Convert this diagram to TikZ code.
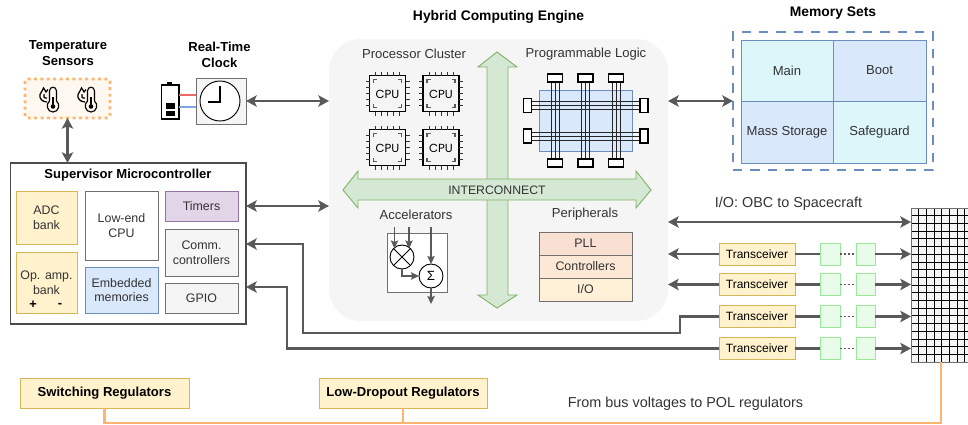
\documentclass[tikz,border=0pt]{standalone}
\usepackage{fontspec}
\setmainfont{Liberation Sans}
\newfontfamily\chipfont{Poppins}
\usetikzlibrary{arrows.meta,calc}
\definecolor{txt}{HTML}{333333}
\definecolor{ln}{HTML}{595959}
\definecolor{yf}{HTML}{FFF2CC}
\definecolor{ys}{HTML}{D6B656}
\definecolor{gf}{HTML}{F5F5F5}
\definecolor{gs}{HTML}{707070}
\definecolor{bf}{HTML}{DAE8FC}
\definecolor{bs}{HTML}{6C8EBF}
\definecolor{pf}{HTML}{E1D5E7}
\definecolor{ps}{HTML}{9673A6}
\definecolor{gnf}{HTML}{D5E8D4}
\definecolor{gns}{HTML}{82B366}
\definecolor{org}{HTML}{FFB570}
\definecolor{tealf}{HTML}{DDF6FA}
\definecolor{sqf}{HTML}{E9FBE9}
\definecolor{sqs}{HTML}{9AE89A}
\definecolor{pllf}{HTML}{F9E0D3}
\definecolor{ctlf}{HTML}{FCE8D5}
\definecolor{piof}{HTML}{FFF1D8}
\definecolor{redw}{HTML}{EA6B66}
\definecolor{bluw}{HTML}{7EA6E0}
\newcommand{\fsA}{\fontsize{9.3}{11}\selectfont}
\newcommand{\fsB}{\fontsize{9.8}{11.5}\selectfont}
\newcommand{\fsC}{\fontsize{10.8}{13}\selectfont}
\tikzset{
  x=0.75pt,y=-0.75pt,
  every node/.style={inner sep=0pt,outer sep=0pt,font=\fsA,text=txt,align=center},
  ttl/.style={font=\fontsize{9.8}{12}\selectfont\bfseries,text=black},
  ttlb/.style={font=\fontsize{10.4}{12}\selectfont\bfseries,text=black},
  big/.style={font=\fsB},
  wide/.style={font=\fsC},
  yel/.style={draw=ys,fill=yf,line width=0.65pt},
  gry/.style={draw=gs,fill=gf,line width=0.65pt},
  wht/.style={draw=gs,fill=white,line width=0.65pt},
  blu/.style={draw=bs,fill=bf,line width=0.65pt},
  pur/.style={draw=ps,fill=pf,line width=0.65pt},
  sq/.style={draw=sqs,fill=sqf,line width=0.7pt},
  cell/.style={draw=bs,line width=0.55pt,font=\fsB},
  bigarrow/.style={draw=gns,fill=gnf,line width=0.7pt},
  wire/.style={draw=ln,line width=1.6pt},
  tip/.tip={Stealth[length=8pt,width=8.5pt,inset=1.8pt]},
  both/.style={wire,{tip}-{tip}},
  one/.style={wire,-{tip}},
  small/.style={draw=ln,line width=1.1pt,-{Stealth[length=6pt,width=5.5pt,inset=1pt]}},
  rail/.style={draw=black!85,line width=0.6pt},
  capbox/.style={draw=black,fill=white,line width=1.1pt},
  cpu/.pic={
    \draw[black,line width=0.8pt,fill=gf] (-18,-18) rectangle (18,18);
    \foreach \p in {-12,-6,0,6,12}{
      \draw[black!80,line width=0.6pt] (\p,-18) -- (\p,-22) (\p,18) -- (\p,22) (-18,\p) -- (-22,\p) (18,\p) -- (22,\p);
    }
    \draw[ln,line width=1pt] (-14,-10.5) -- (-14,-14) -- (-10.5,-14)
      (14,-10.5) -- (14,-14) -- (10.5,-14)
      (-14,10.5) -- (-14,14) -- (-10.5,14)
      (14,10.5) -- (14,14) -- (10.5,14);
    \node[text=black,font=\chipfont\fontsize{8.8}{8.8}\selectfont] (-t) at (0,0.5) {CPU};
  },
  thermo/.pic={
    \draw[black,line width=0.85pt,fill=none]
      (-3.5,1) -- (-3.5,-9) .. controls (-3.5,-14) and (3.5,-14) .. (3.5,-9) -- (3.5,1)
      .. controls (7.5,4) and (6,12) .. (0,12) .. controls (-6,12) and (-7.5,4) .. (-3.5,1);
    \fill[black] (0,6.5) circle (2.3);
    \draw[black,line width=0.85pt] (0,6.5) -- (0,-3);
    \draw[black,line width=0.95pt]
      (-6,2) .. controls (-11,2) and (-14,-2) .. (-13,-5.5)
      .. controls (-12.5,-8) and (-10,-9) .. (-9.5,-12)
      .. controls (-8,-10) and (-7.5,-9) .. (-7,-8)
      .. controls (-6.5,-9) and (-6,-10) .. (-5,-10.5);
    \draw[black,line width=0.95pt] (-6,-2) .. controls (-9,-1.5) and (-10,-3.5) .. (-9,-6);
  },
}
\newcommand{\bx}[7]{\node[#6,minimum width={((#4)-(#2))*0.75pt},minimum height={((#5)-(#3))*0.75pt}] (#1) at ({((#2)+(#4))/2},{((#3)+(#5))/2}) {#7};}
\newcommand{\trx}[2]{%
  \bx{t#1}{719}{#2-11}{795}{#2+11}{yel,font=\fontsize{9}{11}\selectfont}{\textcolor{black}{Transceiver}}
  \bx{a#1}{820}{#2-11}{840}{#2+11}{sq}{}
  \bx{b#1}{856}{#2-11}{875}{#2+11}{sq}{}
  \draw[wire] (t#1.east) -- (a#1.west);
  \draw[draw=ln,line width=1.1pt,dash pattern=on 1.5pt off 1.5pt] (a#1.east) -- (b#1.west);
  \draw[one] (b#1.east) -- (grid.west |- b#1.east);
}
\begin{document}
\begin{tikzpicture}
\useasboundingbox (0,0) rectangle (968,425);

% titles
\node[ttl] (ttemp) at (68,53.5) {Temperature\\Sensors};
\node[ttl] (tclock) at (219.5,54.5) {Real-Time\\Clock};
\node[ttlb] (tengine) at (498.5,17) {Hybrid Computing Engine};
\node[ttlb] (tmem) at (833,13) {Memory Sets};

% temperature sensors
\bx{temp}{25}{79}{110}{118}{draw=org,fill=org!10,line width=2.2pt,dash pattern=on 2.2pt off 2.6pt,rounded corners=2pt}{}
\pic (thA) at (53,100) {thermo};
\pic (thB) at (91,100) {thermo};

% clock and battery
\bx{clock}{196}{78}{246}{124}{gry}{}
\node[draw=black,fill=white,line width=0.7pt,circle,minimum size=30pt] (face) at (220,101) {};
\coordinate (hnd) at (220,102);
\draw[black,line width=1.1pt] (220,86) -- (hnd) -- (208,102);
\bx{batt}{161.5}{85}{179}{119}{draw=black,fill=white,line width=1.4pt}{}
\fill[black] (167,81.5) rectangle (172,85);
\fill[black] (165.5,103) rectangle (175,109);
\fill[black] (165.5,111) rectangle (175,115.5);
\draw[draw=redw,line width=1.5pt] (batt.east |- 0,94.5) -- (clock.west |- 0,94.5);
\draw[draw=bluw,line width=1.5pt] (batt.east |- 0,107) -- (clock.west |- 0,107);

% supervisor
\bx{sup}{10.5}{163}{246}{324}{draw=black!70,fill=white,line width=1pt}{}
\node[ttl] (tsup) at (128,175) {Supervisor Microcontroller};
\bx{adc}{16}{191}{77}{244}{yel}{ADC\\bank}
\bx{opamp}{16}{252}{77}{313}{yel}{}
\node (topamp) at (46.5,282.5) {Op. amp.\\bank};
\node[font=\fontsize{9.6}{11}\selectfont\bfseries,text=black] (plus) at (33,305) {+};
\node[font=\fontsize{9.6}{11}\selectfont\bfseries,text=black] (minus) at (60,305) {-};
\bx{lcpu}{85}{191}{158}{260}{wht}{Low-end\\CPU}
\bx{emb}{85}{267}{158}{313}{blu}{Embedded\\memories}
\bx{timers}{165}{191}{238}{221}{pur}{Timers}
\bx{comm}{165}{229}{238}{276}{gry}{Comm.\\controllers}
\bx{gpio}{165}{283}{238}{313}{gry}{GPIO}

% engine
\node[draw=none,fill=gf,rounded corners=24pt,minimum width={(668-329)*0.75pt},minimum height={(321-39)*0.75pt}] (cluster) at ({(329+668)/2},{(39+321)/2}) {};
\draw[bigarrow] (497,52) -- (517,67) -- (508,67) -- (508,295) -- (517,295) -- (497,308) -- (478,295) -- (487,295) -- (487,67) -- (478,67) -- cycle;
\draw[bigarrow] (343,190) -- (358,171) -- (358,179) -- (636,179) -- (636,171) -- (651,190) -- (636,208) -- (636,200) -- (358,200) -- (358,208) -- cycle;
\node[font=\fontsize{9.2}{11}\selectfont] (inter) at (497,190.5) {INTERCONNECT};
\node[big] (tproc) at (414,54) {Processor Cluster};
\node[big] (tprog) at (586,54) {Programmable Logic};
\node[big] (tacc) at (416,214.5) {Accelerators};
\node[big] (tper) at (585,214.5) {Peripherals};

\pic (c1) at (387.5,93.5) {cpu};
\pic (c2) at (441,93.5) {cpu};
\pic (c3) at (387.5,147.5) {cpu};
\pic (c4) at (441,147.5) {cpu};

% programmable logic
\bx{fabric}{539.5}{90}{632}{151}{blu}{}
\foreach \y in {101,105,109,132,136,140}{
  \draw[rail] (528,\y) -- (644,\y);
}
\foreach \x in {551,555,559,581.5,585.5,589.5,612,616,620}{
  \draw[rail] (\x,78) -- (\x,163);
}
\foreach \n/\y in {l1/105.5,l2/136}{
  \node[capbox,minimum width=6.2pt,minimum height=10.8pt] (\n) at (527.5,\y) {};
}
\foreach \n/\y in {r1/105.5,r2/136}{
  \node[capbox,minimum width=6.2pt,minimum height=10.8pt] (\n) at (644,\y) {};
}
\foreach \n/\x in {u1/555,u2/585.5,u3/616}{
  \node[capbox,minimum width=11pt,minimum height=5.8pt] (\n) at (\x,78) {};
}
\foreach \n/\x in {d1/555,d2/585.5,d3/616}{
  \node[capbox,minimum width=11pt,minimum height=5.8pt] (\n) at (\x,163) {};
}

% accelerators
\bx{acc}{387}{233}{447}{292}{wht}{}
\node[draw=black,fill=white,circle,line width=0.7pt,minimum size=18pt] (mul) at (402,257) {};
\draw[black,line width=0.7pt] (mul.45) -- (mul.225) (mul.135) -- (mul.315);
\node[draw=black,fill=white,circle,line width=0.7pt,minimum size=18pt,font=\fontsize{10}{10}\selectfont,text=black] (sum) at (431,276) {Σ};
\coordinate (inA) at (394.5,227);
\coordinate (inB) at (409,227);
\coordinate (inC) at (431,227);
\coordinate (outS) at (431,304);
\draw[small] (inA) -- (inA |- mul.north west);
\draw[small] (inB) -- (inB |- mul.north east);
\draw[small] (inC) -- (sum.north);
\draw[small] (mul.south) |- (sum.west);
\draw[small] (sum.south) -- (outS);

% peripherals
\bx{pll}{539}{232}{632}{255}{draw=gs,fill=pllf,line width=0.65pt}{PLL}
\bx{ctl}{539}{255}{632}{278}{draw=gs,fill=ctlf,line width=0.65pt}{Controllers}
\bx{pio}{539}{278}{632}{301}{draw=gs,fill=piof,line width=0.65pt}{I/O}

% memory
\bx{mem}{733}{32}{933}{170}{draw=bs,line width=1pt,dash pattern=on 7pt off 6pt}{}
\bx{main}{741}{40}{833}{101}{cell,fill=tealf}{Main}
\bx{boot}{833}{40}{926}{101}{cell,fill=bf}{Boot}
\bx{mass}{741}{101}{833}{163}{cell,fill=bf}{Mass Storage}
\bx{safe}{833}{101}{926}{163}{cell,fill=tealf}{Safeguard}

% connector grid
\bx{grid}{911}{208}{968}{362}{draw=none,fill=gf}{}
\foreach \i in {0,...,7}{
  \draw[black,line width=0.55pt] ({911+\i*7.67},208) -- ({911+\i*7.67},362);
}
\foreach \i in {0,...,20}{
  \draw[black,line width=0.55pt] (911,{208+\i*7.7}) -- (968,{208+\i*7.7});
}
\draw[gs,line width=0.7pt] (grid.north west) rectangle (grid.south east);

% regulators
\bx{sw}{20}{378}{189}{408}{yel,font=\fontsize{9.8}{12}\selectfont}{\textcolor{black}{\bfseries Switching Regulators}}
\bx{ldo}{319}{378}{487}{408}{yel,font=\fontsize{9.8}{12}\selectfont}{\textcolor{black}{\bfseries Low-Dropout Regulators}}
\node[wide] (tpol) at (685.5,404) {From bus voltages to POL regulators};
\node[wide] (tio) at (788.5,204) {I/O: OBC to Spacecraft};

\coordinate (busL) at (104.5,423);
\coordinate (busR) at (941,423);
\coordinate (gridS) at (941,362);
\draw[org,line width=2pt] (sw.south) -- (busL) -- (busR) -- (gridS);
\draw[org,line width=2pt] (ldo.south) -- (ldo.south |- busR);

% transceivers
\trx{A}{254}
\trx{B}{284.5}
\trx{C}{316.5}
\trx{D}{348.5}

% connectors
\draw[both] (temp.south) -- (temp.south |- sup.north);
\draw[both] (clock.east |- 0,101) -- (cluster.west |- 0,101);
\draw[both] (cluster.east |- 0,101) -- (mem.west |- 0,101);
\draw[both] (sup.east |- timers.east) -- (cluster.west |- timers.east);
\draw[both] (cluster.east |- 0,222) -- (grid.west |- 0,222);
\draw[one] (tA.west) -- (cluster.east |- tA.west);
\draw[one] (tB.west) -- (cluster.east |- tB.west);
\coordinate (jogC) at (680,333);
\coordinate (cornC) at (303,333);
\draw[wire,-{tip}] (tC.west) -- (jogC |- tC.west) -- (jogC) -- (cornC) -- (cornC |- 0,244) -- (sup.east |- 0,244);
\coordinate (cornD) at (287,348.5);
\draw[wire,-{tip}] (tD.west) -- (cornD) -- (cornD |- 0,287) -- (sup.east |- 0,287);
\end{tikzpicture}
\end{document}
